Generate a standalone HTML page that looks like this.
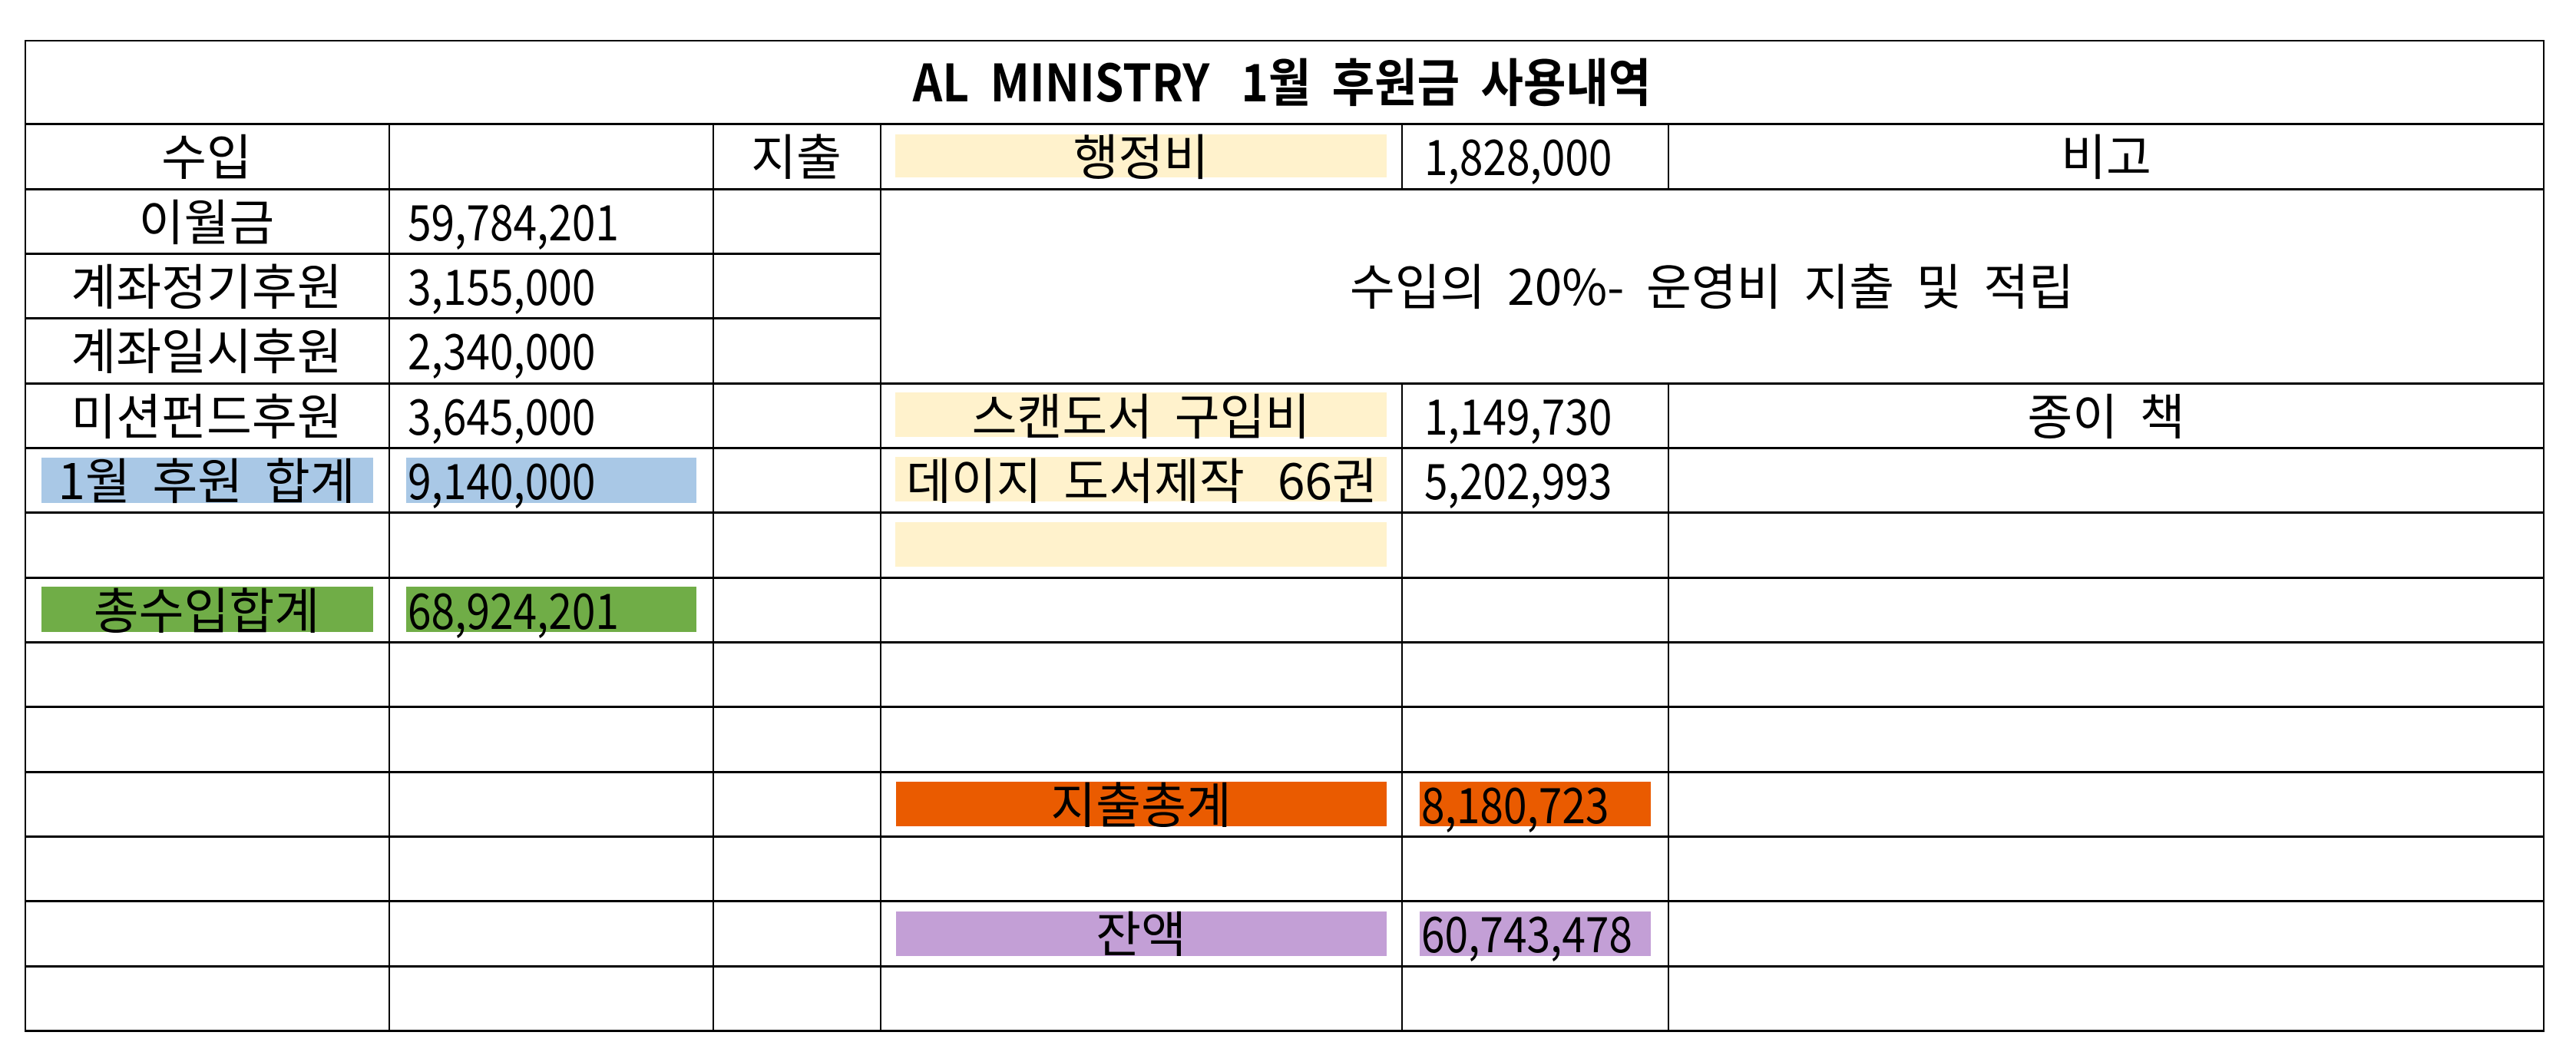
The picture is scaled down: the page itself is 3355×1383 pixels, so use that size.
<!DOCTYPE html>
<html><head><meta charset="utf-8"><style>
html,body{margin:0;padding:0;background:#fff;}
body{width:3355px;height:1383px;position:relative;overflow:hidden;font-family:"Liberation Sans","Noto Sans CJK KR",sans-serif;color:#000;}
.h{position:absolute;height:3px;background:#000;}
.v{position:absolute;width:2px;background:#000;}
.b{position:absolute;}
.t{position:absolute;font-size:64px;line-height:80px;white-space:nowrap;}
.c{text-align:center;}
.n{transform:scaleX(0.86);transform-origin:left center;font-family:"Noto Sans CJK KR",sans-serif;}
.k{font-family:"Noto Sans CJK KR",sans-serif;}
</style></head><body>
<div class="h" style="left:32px;top:52px;width:3282px;height:2px"></div>
<div class="v" style="left:32px;top:52px;height:1292px"></div>
<div class="v" style="left:3312px;top:52px;height:1292px"></div>
<div class="t k" style="left:1086px;top:64px;width:1167px;font-weight:bold;font-size:67px;line-height:80px;text-align:center;transform:scaleX(0.9);">AL&nbsp; MINISTRY &nbsp;&nbsp;1월 &nbsp;후원금 &nbsp;사용내역</div>
<div class="h" style="left:32px;top:160px;width:3282px"></div>
<div class="h" style="left:32px;top:245px;width:3282px"></div>
<div class="h" style="left:32px;top:329px;width:1115px"></div>
<div class="h" style="left:32px;top:413px;width:1115px"></div>
<div class="h" style="left:32px;top:498px;width:3282px"></div>
<div class="h" style="left:32px;top:582px;width:3282px"></div>
<div class="h" style="left:32px;top:666px;width:3282px"></div>
<div class="h" style="left:32px;top:751px;width:3282px"></div>
<div class="h" style="left:32px;top:835px;width:3282px"></div>
<div class="h" style="left:32px;top:919px;width:3282px"></div>
<div class="h" style="left:32px;top:1004px;width:3282px"></div>
<div class="h" style="left:32px;top:1088px;width:3282px"></div>
<div class="h" style="left:32px;top:1172px;width:3282px"></div>
<div class="h" style="left:32px;top:1257px;width:3282px"></div>
<div class="h" style="left:32px;top:1341px;width:3282px"></div>
<div class="v" style="left:506px;top:161px;height:1182px"></div>
<div class="v" style="left:928px;top:161px;height:1182px"></div>
<div class="v" style="left:1146px;top:161px;height:1182px"></div>
<div class="v" style="left:1825px;top:161px;height:85px"></div>
<div class="v" style="left:2172px;top:161px;height:85px"></div>
<div class="v" style="left:1825px;top:499px;height:844px"></div>
<div class="v" style="left:2172px;top:499px;height:844px"></div>
<div class="b" style="left:1166px;top:175px;width:640px;height:56px;background:#fff2cc"></div>
<div class="b" style="left:1166px;top:511px;width:640px;height:58px;background:#fff2cc"></div>
<div class="b" style="left:1166px;top:595px;width:640px;height:58px;background:#fff2cc"></div>
<div class="b" style="left:1166px;top:680px;width:640px;height:58px;background:#fff2cc"></div>
<div class="b" style="left:54px;top:596px;width:432px;height:59px;background:#a9c8e6"></div>
<div class="b" style="left:529px;top:596px;width:378px;height:59px;background:#a9c8e6"></div>
<div class="b" style="left:54px;top:764px;width:432px;height:59px;background:#70ad47"></div>
<div class="b" style="left:529px;top:764px;width:378px;height:59px;background:#70ad47"></div>
<div class="b" style="left:1167px;top:1018px;width:639px;height:58px;background:#ea5b00"></div>
<div class="b" style="left:1849px;top:1018px;width:301px;height:58px;background:#ea5b00"></div>
<div class="b" style="left:1167px;top:1187px;width:639px;height:58px;background:#c39fd6"></div>
<div class="b" style="left:1849px;top:1187px;width:301px;height:58px;background:#c39fd6"></div>
<div class="t k c" style="left:32px;top:161px;width:474px">수입</div>
<div class="t k c" style="left:32px;top:246px;width:474px">이월금</div>
<div class="t k c" style="left:32px;top:330px;width:474px">계좌정기후원</div>
<div class="t k c" style="left:32px;top:414px;width:474px">계좌일시후원</div>
<div class="t k c" style="left:32px;top:499px;width:474px">미션펀드후원</div>
<div class="t k c" style="left:32px;top:583px;width:474px">1월 &nbsp;후원 &nbsp;합계</div>
<div class="t k c" style="left:32px;top:752px;width:474px">총수입합계</div>
<div class="t n" style="left:531px;top:246px">59,784,201</div>
<div class="t n" style="left:531px;top:330px">3,155,000</div>
<div class="t n" style="left:531px;top:414px">2,340,000</div>
<div class="t n" style="left:531px;top:499px">3,645,000</div>
<div class="t n" style="left:531px;top:583px">9,140,000</div>
<div class="t n" style="left:531px;top:752px">68,924,201</div>
<div class="t k c" style="left:928px;top:161px;width:218px">지출</div>
<div class="t k c" style="left:1166px;top:161px;width:640px">행정비</div>
<div class="t k c" style="left:1146px;top:330px;width:2167px">수입의 &nbsp;20%- &nbsp;운영비 &nbsp;지출 &nbsp;및 &nbsp;적립</div>
<div class="t k c" style="left:1166px;top:499px;width:640px">스캔도서 &nbsp;구입비</div>
<div class="t k" style="left:1180px;top:583px">데이지 &nbsp;도서제작 &nbsp;&nbsp;66권</div>
<div class="t k c" style="left:1166px;top:1005px;width:640px">지출총계</div>
<div class="t k c" style="left:1166px;top:1173px;width:640px">잔액</div>
<div class="t n" style="left:1855px;top:161px">1,828,000</div>
<div class="t n" style="left:1855px;top:499px">1,149,730</div>
<div class="t n" style="left:1855px;top:583px">5,202,993</div>
<div class="t n" style="left:1851px;top:1005px">8,180,723</div>
<div class="t n" style="left:1851px;top:1173px">60,743,478</div>
<div class="t k c" style="left:2173px;top:161px;width:1140px">비고</div>
<div class="t k c" style="left:2173px;top:499px;width:1140px">종이 &nbsp;책</div>
</body></html>
